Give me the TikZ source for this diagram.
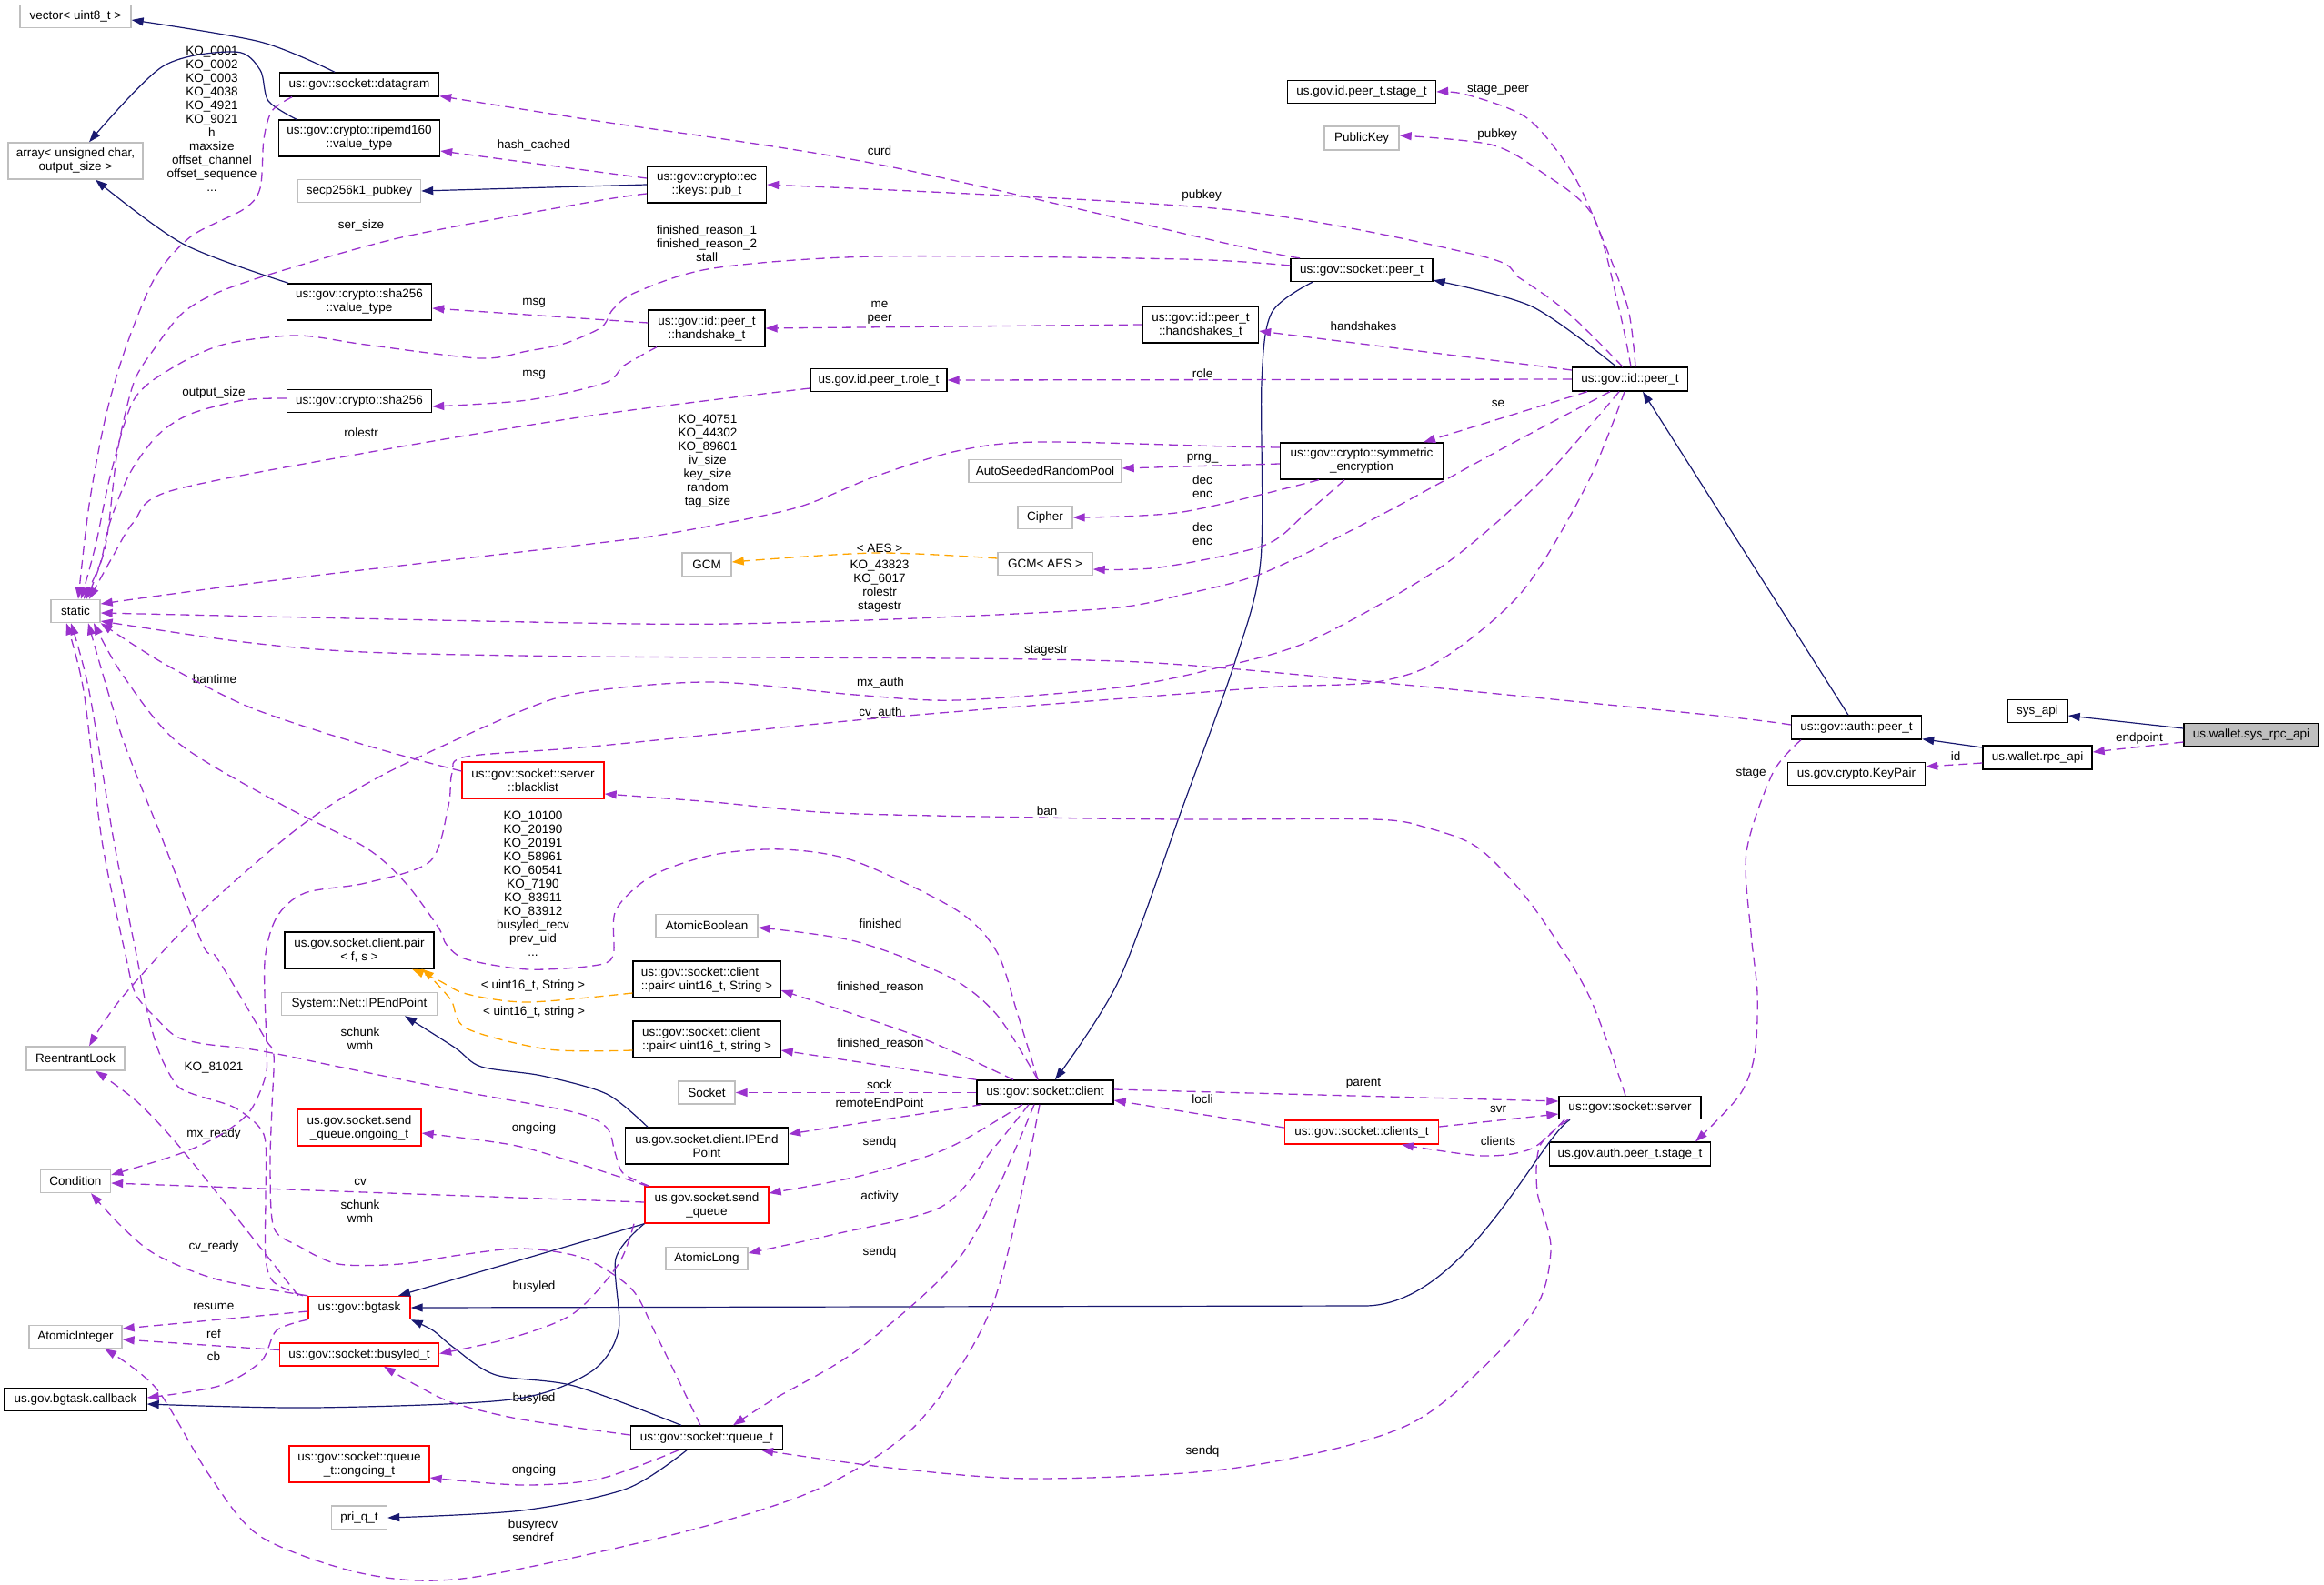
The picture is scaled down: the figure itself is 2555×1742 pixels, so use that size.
\documentclass[tikz,border=0pt]{standalone}
\usepackage{fontspec}
\setmainfont{Liberation Sans}
\usetikzlibrary{arrows.meta}
\definecolor{navyc}{HTML}{191970}
\definecolor{orchc}{HTML}{9A32CD}
\definecolor{orgc}{HTML}{FFA500}
\definecolor{grayc}{HTML}{BFBFBF}
\definecolor{redc}{HTML}{FF0000}
\newcommand{\dfont}{\fontsize{13.5}{15}\selectfont}
\begin{document}
\begin{tikzpicture}[x=1pt,y=-1pt,
 nd/.style={draw=black, line width=1.4pt, rectangle, inner sep=0pt, font=\dfont, align=center},
 gr/.style={nd, draw=grayc},
 rd/.style={nd, draw=redc},
 lb/.style={inner sep=0pt, font=\dfont, align=center},
 arrowtip/.style={-{Triangle[length=13pt,width=9pt]}},
 inh/.style={draw=navyc, line width=1.2pt, arrowtip},
 dep/.style={draw=orchc, line width=1.3pt, dash pattern=on 10pt off 6pt, arrowtip},
 tpl/.style={draw=orgc, line width=1.3pt, dash pattern=on 10pt off 6pt, arrowtip},
]
\useasboundingbox (0,0) rectangle (2555,1742);
% ---------------- nodes ----------------
\node[gr, minimum width=122pt, minimum height=25pt] (vec) at (83,18) {vector< uint8\_t >};
\node[gr, minimum width=148pt, minimum height=40pt] (arr) at (83,177) {array< unsigned char,\\ output\_size >};
\node[nd, minimum width=175pt, minimum height=26pt] (dgram) at (395,93) {us::gov::socket::datagram};
\node[nd, minimum width=177pt, minimum height=40pt] (ripemd) at (395,152) {us::gov::crypto::ripemd160\\::value\_type};
\node[gr, minimum width=135pt, minimum height=25pt] (secp) at (395,210) {secp256k1\_pubkey};
\node[nd, minimum width=159pt, minimum height=40pt] (shav) at (395,332) {us::gov::crypto::sha256\\::value\_type};
\node[nd, minimum width=159pt, minimum height=25pt] (sha) at (395,441) {us::gov::crypto::sha256};
\node[nd, minimum width=131pt, minimum height=40pt] (pubt) at (777,203) {us::gov::crypto::ec\\::keys::pub\_t};
\node[nd, minimum width=128pt, minimum height=40pt] (hshake) at (777,361) {us::gov::id::peer\_t\\::handshake\_t};
\node[nd, minimum width=127pt, minimum height=40pt] (hshakes) at (1320,357) {us::gov::id::peer\_t\\::handshakes\_t};
\node[nd, minimum width=150pt, minimum height=25pt] (role) at (966,418) {us.gov.id.peer\_t.role\_t};
\node[gr, minimum width=168pt, minimum height=25pt] (asrp) at (1149,518) {AutoSeededRandomPool};
\node[gr, minimum width=60pt, minimum height=25pt] (cipher) at (1149,569) {Cipher};
\node[nd, minimum width=163pt, minimum height=25pt] (stagep) at (1497,101) {us.gov.id.peer\_t.stage\_t};
\node[gr, minimum width=82pt, minimum height=26pt] (pubkey) at (1497,152) {PublicKey};
\node[nd, minimum width=156pt, minimum height=25pt] (speer) at (1497,297) {us::gov::socket::peer\_t};
\node[nd, minimum width=127pt, minimum height=26pt] (idpeer) at (1792,417) {us::gov::id::peer\_t};
\node[nd, minimum width=179pt, minimum height=40pt] (symenc) at (1497,507) {us::gov::crypto::symmetric\\\_encryption};
\node[gr, minimum width=54pt, minimum height=26pt] (gcm) at (777,621) {GCM};
\node[gr, minimum width=104pt, minimum height=25pt] (gcmaes) at (1149,620) {GCM< AES >};
\node[gr, minimum width=112pt, minimum height=25pt] (atomb) at (777,1018) {AtomicBoolean};
\node[nd, align=left, minimum width=162pt, minimum height=40pt] (pairS) at (777,1077) {us::gov::socket::client\\::pair< uint16\_t, String >};
\node[nd, align=left, minimum width=162pt, minimum height=40pt] (pairs) at (777,1143) {us::gov::socket::client\\::pair< uint16\_t, string >};
\node[gr, minimum width=54pt, minimum height=25pt] (static) at (83,672) {static};
\node[rd, minimum width=156pt, minimum height=40pt] (blacklist) at (586,858) {us::gov::socket::server\\::blacklist};
\node[nd, minimum width=164pt, minimum height=40pt] (pairfs) at (395,1045) {us.gov.socket.client.pair\\< f, s >};
\node[gr, minimum width=171pt, minimum height=25pt] (ipep) at (395,1104) {System::Net::IPEndPoint};
\node[gr, minimum width=108pt, minimum height=26pt] (rlock) at (83,1164) {ReentrantLock};
\node[rd, minimum width=136pt, minimum height=40pt] (sqong) at (395,1240) {us.gov.socket.send\\\_queue.ongoing\_t};
\node[gr, minimum width=77pt, minimum height=25pt] (cond) at (83,1299) {Condition};
\node[rd, minimum width=136pt, minimum height=40pt] (sendq) at (777,1325) {us.gov.socket.send\\\_queue};
\node[nd, minimum width=179pt, minimum height=40pt] (ipend) at (777,1260) {us.gov.socket.client.IPEnd\\Point};
\node[gr, minimum width=62pt, minimum height=25pt] (socket) at (777,1201.5) {Socket};
\node[gr, minimum width=90pt, minimum height=25pt] (atoml) at (777,1384) {AtomicLong};
\node[rd, minimum width=112pt, minimum height=25pt] (bgtask) at (395,1438) {us::gov::bgtask};
\node[gr, minimum width=102pt, minimum height=25pt] (atomi) at (83,1470) {AtomicInteger};
\node[rd, minimum width=175pt, minimum height=25pt] (busyled) at (395,1489.5) {us::gov::socket::busyled\_t};
\node[nd, minimum width=156pt, minimum height=25pt] (cbk) at (83,1539) {us.gov.bgtask.callback};
\node[nd, minimum width=167pt, minimum height=26pt] (queue) at (777,1581) {us::gov::socket::queue\_t};
\node[rd, minimum width=154pt, minimum height=40pt] (qong) at (395,1610) {us::gov::socket::queue\\\_t::ongoing\_t};
\node[gr, minimum width=61pt, minimum height=26pt] (priq) at (395,1669) {pri\_q\_t};
\node[nd, minimum width=150pt, minimum height=26pt] (client) at (1149,1201) {us::gov::socket::client};
\node[rd, minimum width=169pt, minimum height=26pt] (clients) at (1497,1245) {us::gov::socket::clients\_t};
\node[nd, minimum width=156pt, minimum height=25pt] (server) at (1792,1218) {us::gov::socket::server};
\node[nd, minimum width=177pt, minimum height=26pt] (authstage) at (1792,1269) {us.gov.auth.peer\_t.stage\_t};
\node[nd, minimum width=66pt, minimum height=25pt] (sysapi) at (2240,782) {sys\_api};
\node[nd, fill=grayc, minimum width=148pt, minimum height=25pt] (sysrpc) at (2475,808) {us.wallet.sys\_rpc\_api};
\node[nd, minimum width=143pt, minimum height=26pt] (authpeer) at (2041,800) {us::gov::auth::peer\_t};
\node[nd, minimum width=120pt, minimum height=26pt] (rpcapi) at (2240,833) {us.wallet.rpc\_api};
\node[nd, minimum width=151pt, minimum height=25pt] (keypair) at (2041,851) {us.gov.crypto.KeyPair};
% ---------------- labels ----------------
\node[lb] (l01) at (233,131) {KO\_0001\\KO\_0002\\KO\_0003\\KO\_4038\\KO\_4921\\KO\_9021\\h\\maxsize\\offset\_channel\\offset\_sequence\\...};
\node[lb] (l02) at (397,248) {ser\_size};
\node[lb] (l03) at (587,160) {hash\_cached};
\node[lb] (l04) at (587,333) {msg};
\node[lb] (l05) at (587,412) {msg};
\node[lb] (l06) at (235,432) {output\_size};
\node[lb] (l07) at (397,476) {rolestr};
\node[lb] (l08) at (967,166) {curd};
\node[lb] (l09) at (1321,215) {pubkey};
\node[lb] (l10) at (777,268) {finished\_reason\_1\\finished\_reason\_2\\stall};
\node[lb] (l11) at (967,344) {me\\peer};
\node[lb] (l12) at (1322,411) {role};
\node[lb] (l13) at (778,507) {KO\_40751\\KO\_44302\\KO\_89601\\iv\_size\\key\_size\\random\\tag\_size};
\node[lb] (l14) at (1322,504) {prng\_};
\node[lb] (l15) at (1322,535) {dec\\enc};
\node[lb] (l16) at (1322,587) {dec\\enc};
\node[lb] (l17) at (1647,99) {stage\_peer};
\node[lb] (l18) at (1646,148) {pubkey};
\node[lb] (l19) at (1499,359) {handshakes};
\node[lb] (l20) at (1647,444) {se};
\node[lb] (l21) at (967,603) {< AES >};
\node[lb] (l22) at (967,645) {KO\_43823\\KO\_6017\\rolestr\\stagestr};
\node[lb] (l23) at (1150,716) {stagestr};
\node[lb] (l24) at (968,751) {mx\_auth};
\node[lb] (l25) at (968,784) {cv\_auth};
\node[lb] (l26) at (1151,892) {ban};
\node[lb] (l27) at (968,1016) {finished};
\node[lb] (l28) at (968,1086) {finished\_reason};
\node[lb] (l29) at (968,1148) {finished\_reason};
\node[lb] (l30) at (236,747) {bantime};
\node[lb] (l31) at (586,972) {KO\_10100\\KO\_20190\\KO\_20191\\KO\_58961\\KO\_60541\\KO\_7190\\KO\_83911\\KO\_83912\\busyled\_recv\\prev\_uid\\...};
\node[lb] (l32) at (586,1084) {< uint16\_t, String >};
\node[lb] (l33) at (587,1113) {< uint16\_t, string >};
\node[lb] (l34) at (396,1142) {schunk\\wmh};
\node[lb] (l35) at (235,1174) {KO\_81021};
\node[lb] (l36) at (235,1247) {mx\_ready};
\node[lb] (l37) at (587,1241) {ongoing};
\node[lb] (l38) at (396,1300) {cv};
\node[lb] (l39) at (396,1332) {schunk\\wmh};
\node[lb] (l40) at (235,1371) {cv\_ready};
\node[lb] (l41) at (587,1415) {busyled};
\node[lb] (l42) at (235,1437) {resume};
\node[lb] (l43) at (235,1467) {ref};
\node[lb] (l44) at (235,1492) {cb};
\node[lb] (l45) at (587,1538) {busyled};
\node[lb] (l46) at (587,1617) {ongoing};
\node[lb] (l47) at (586,1683) {busyrecv\\sendref};
\node[lb] (l48) at (967,1193) {sock};
\node[lb] (l49) at (967,1213) {remoteEndPoint};
\node[lb] (l50) at (967,1256) {sendq};
\node[lb] (l51) at (967,1316) {activity};
\node[lb] (l52) at (967,1377) {sendq};
\node[lb] (l53) at (1499,1192) {parent};
\node[lb] (l54) at (1322,1209) {locli};
\node[lb] (l55) at (1647,1220) {svr};
\node[lb] (l56) at (1647,1255) {clients};
\node[lb] (l57) at (1322,1596) {sendq};
\node[lb] (l58) at (2352,812) {endpoint};
\node[lb] (l59) at (2150,832) {id};
\node[lb] (l60) at (1925,851) {stage};
% ---------------- inheritance ----------------
\draw[inh] plot[smooth] coordinates {([xshift=-27pt]dgram.north) (286,46) ([yshift=-4pt]vec.east)};
\draw[inh] plot[smooth] coordinates {([xshift=-69pt]ripemd.north) (295,111) (286,77) (259,57) (179,73) ([xshift=15pt]arr.north)};
\draw[inh] (pubt.west) -- (secp.east);
\draw[inh] plot[smooth] coordinates {([xshift=-78pt]shav.north) (201,268) ([xshift=22pt]arr.south)};
\draw[inh] plot[smooth] coordinates {([xshift=-15pt]idpeer.north) (1684,337) ([yshift=2pt]speer.south east)};
\draw[inh] plot[smooth] coordinates {([xshift=-54pt]speer.south) (1398,344) (1387,421) (1386,616) (1358,727) (1300,888) (1230,1078) ([xshift=11pt]client.north)};
\draw[inh] ([xshift=-9pt]authpeer.north) -- ([xshift=14pt]idpeer.south);
\draw[inh] ([yshift=11pt]rpcapi.west) -- ([yshift=1pt]authpeer.south east);
\draw[inh] ([yshift=7pt]sysrpc.west) -- ([yshift=-5pt]sysapi.east);
\draw[inh] plot[smooth] coordinates {([xshift=-65pt]ipend.north) (667,1203) (596,1183) (529,1173) (500,1152) ([xshift=50pt]ipep.south)};
\draw[inh] (sendq.south west) -- ([xshift=43pt]bgtask.north);
\draw[inh] ([xshift=-66pt]server.south) .. controls (1690,1255) and (1610,1436) .. (1500,1436) -- (bgtask.east);
\draw[inh] plot[smooth] coordinates {([xshift=-28pt]queue.north) (631,1524) (545,1512) (499,1482) (476,1463) (bgtask.south east)};
\draw[inh] plot[smooth] coordinates {(sendq.south west) (677,1384) (680,1463) (649,1509) (562,1539) (344,1548) ([yshift=-5pt]cbk.east)};
\draw[inh] plot[smooth] coordinates {([xshift=-22pt]queue.south) (689,1637) (574,1661) (priq.east)};
% ---------------- templates ----------------
\draw[tpl] plot[smooth] coordinates {([yshift=6pt]gcmaes.west) (962,608) ([yshift=3pt]gcm.east)};
\draw[tpl] plot[smooth] coordinates {([yshift=-15pt]pairS.west) (580,1102) (513,1093) (482,1078) ([xshift=58pt]pairfs.south)};
\draw[tpl] plot[smooth] coordinates {([yshift=-12pt]pairs.west) (603,1154) (513,1131) (496,1100) (473,1074) ([xshift=69pt]pairfs.south)};
% ---------------- usage ----------------
\draw[dep] plot[smooth] coordinates {([xshift=6pt]idpeer.north) (1790,340) (1764,268) (1729,191) (1679,130) (1612,104) (stagep.east)};
\draw[dep] plot[smooth] coordinates {([xshift=1pt]idpeer.north) (1780,340) (1751,237) (1693,188) (1639,159) ([yshift=3pt]pubkey.east)};
\draw[dep] plot[smooth] coordinates {([xshift=-8pt]idpeer.north) (1724,344) (1671,306) (1626,281) (1345,230) (pubt.east)};
\draw[dep] ([yshift=10pt]idpeer.west) -- ([yshift=-7pt]hshakes.east);
\draw[dep] (idpeer.west) -- (role.east);
\draw[dep] ([xshift=-47pt]idpeer.south) -- ([xshift=68pt]symenc.north);
\draw[dep] plot[smooth] coordinates {([xshift=-22pt]idpeer.south) (1656,491) (1513,569) (1389,630) (1300,654) (1230,668) (1096,676) (918,683) (700,686) ([yshift=-2pt]static.east)};
\draw[dep] plot[smooth] coordinates {([xshift=-12pt]idpeer.south) (1691,532) (1585,623) (1442,704) (1336,735) (1230,756) (1052,770) (940,764) (784,750) (650,760) (580,779) (429,848) (335,905) (223,1001) (134,1097) ([xshift=15pt]rlock.north)};
\draw[dep] plot[smooth] coordinates {([xshift=-6pt]idpeer.south) (1745,532) (1674,650) (1585,725) (1513,750) (1407,755) (1300,763) (963,790) (650,821) (513,832) (497,850) (493,886) (473,947) (402,971) (335,982) (304,1009) (291,1058) (293,1150) (292,1183) (274,1223) (239,1250) (194,1270) ([yshift=7pt]cond.east)};
\draw[dep] plot[smooth] coordinates {([yshift=3pt]authpeer.west) (1858,784) (1350,735) (1141,725) (650,722) (400,717) (268,706) ([yshift=-11pt]static.east)};
\draw[dep] plot[smooth] coordinates {([yshift=15pt]symenc.west) (1350,491) (1141,486) (1052,496) (962,524) (873,559) (739,586) (650,598) (312,637) ([yshift=8pt]static.east)};
\draw[dep] ([yshift=-3pt]symenc.west) -- ([yshift=3pt]asrp.east);
\draw[dep] plot[smooth] coordinates {([xshift=-47pt]symenc.south) (1300,563) (cipher.east)};
\draw[dep] plot[smooth] coordinates {([xshift=-19pt]symenc.south) (1434,566) (1389,600) (1275,624) ([yshift=-6pt]gcmaes.east)};
\draw[dep] plot[smooth] coordinates {([yshift=5pt]speer.west) (1300,285) (963,282) (784,295) (700,321) (674,340) (661,360) (620,378) (580,386) (527,394) (402,379) (326,369) (245,379) (187,406) (147,440) (122,520) (105,600) ([xshift=6pt]static.north)};
\draw[dep] plot[smooth] coordinates {([xshift=-68pt]speer.north) (1350,268) (962,180) (650,132) ([yshift=1pt]dgram.south east)};
\draw[dep] plot[smooth] coordinates {([yshift=7pt]pubt.west) (650,188) ([yshift=-14pt]ripemd.east)};
\draw[dep] plot[smooth] coordinates {([yshift=-10pt]pubt.west) (650,222) (446,260) (312,297) (241,321) (201,344) (170,383) (147,421) (129,497) (116,600) ([xshift=12pt]static.north)};
\draw[dep] ([yshift=6pt]hshake.west) -- ([yshift=-7pt]shav.east);
\draw[dep] plot[smooth] coordinates {([xshift=-55pt]hshake.south) (686,402) (665,421) (580,440) ([yshift=-6pt]sha.east)};
\draw[dep] (hshakes.west) -- (hshake.east);
\draw[dep] plot[smooth] coordinates {([yshift=-9pt]role.west) (650,457) (402,498) (187,540) (147,574) (125,610) ([xshift=15pt]static.north)};
\draw[dep] plot[smooth] coordinates {([yshift=3pt]sha.west) (268,440) (210,455) (174,478) (143,520) (121,574) (110,620) ([xshift=9pt]static.north)};
\draw[dep] plot[smooth] coordinates {([xshift=-74pt]dgram.south) (299,122) (290,153) (286,207) (268,230) (210,260) (170,306) (138,383) (116,459) (98,555) ([xshift=3pt]static.north)};
\draw[dep] plot[smooth] coordinates {([xshift=-61pt]authpeer.south) (1949,850) (1920,937) (1925,1026) (1932,1093) (1929,1160) (1912,1205) ([xshift=72pt]authstage.north)};
\draw[dep] ([yshift=-6pt]rpcapi.west) -- ([yshift=8pt]keypair.east);
\draw[dep] ([yshift=-8pt]sysrpc.west) -- ([yshift=6pt]rpcapi.east);
\draw[dep] plot[smooth] coordinates {([xshift=-8pt]client.north) (1096,1116) (1043,1074) (940,1035) ([yshift=-2pt]atomb.east)};
\draw[dep] plot[smooth] coordinates {([xshift=-35pt]client.north) (1007,1139) ([yshift=-12pt]pairS.east)};
\draw[dep] (client.north west) -- ([yshift=-12pt]pairs.east);
\draw[dep] ([yshift=-0.5pt]client.west) -- (socket.east);
\draw[dep] ([xshift=6pt]client.south west) -- ([yshift=13pt]ipend.east);
\draw[dep] plot[smooth] coordinates {([xshift=-25pt]client.south) (1041,1263) (946,1293) ([yshift=13pt]sendq.east)};
\draw[dep] plot[smooth] coordinates {([xshift=-18pt]client.south) (1092,1263) (1035,1327) (914,1358) ([yshift=6pt]atoml.east)};
\draw[dep] plot[smooth] coordinates {([xshift=-12pt]client.south) (1060,1376) (946,1482) (850,1539) ([xshift=29pt]queue.north)};
\draw[dep] plot[smooth] coordinates {([xshift=-6pt]client.south) (1092,1433) (1009,1565) (900,1637) (746,1686) (516,1735) (402,1731) (287,1690) (230,1622) (172,1527) ([xshift=32pt]atomi.south)};
\draw[dep] plot[smooth] coordinates {([xshift=-8pt]client.north) (1119,1116) (1096,1047) (1052,1001) (940,947) (860,934) (784,940) (717,963) (677,1001) (674,1051) (652,1062) (580,1066) (513,1055) (491,1039) (482,1020) (446,971) (402,932) (312,886) (196,817) (134,741) ([xshift=20pt]static.south)};
\draw[dep] ([yshift=3pt]client.east) -- ([yshift=7pt]server.west);
\draw[dep] ([yshift=5pt]clients.west) -- ([yshift=-9pt]client.east);
\draw[dep] ([yshift=6pt]clients.east) -- ([yshift=-7pt]server.west);
\draw[dep] plot[smooth] coordinates {([xshift=-72pt]server.south) (1684,1263) (1630,1271) ([xshift=44pt]clients.south)};
\draw[dep] plot[smooth] coordinates {([xshift=-5pt]server.north) (1746,1093) (1684,995) (1626,933) (1568,910) (1510,901) (1300,901) (1141,899) (918,894) (784,882) ([yshift=-15pt]blacklist.east)};
\draw[dep] plot[smooth] coordinates {([xshift=-68pt]server.south) (1693,1260) (1690,1310) (1705,1376) (1679,1452) (1552,1565) (1360,1614) (1137,1626) (978,1614) ([xshift=60pt]queue.south)};
\draw[dep] plot[smooth] coordinates {([xshift=-62pt]bgtask.north) (301,1410) (292,1383) (292,1317) (292,1257) (283,1237) (256,1217) (212,1203) (194,1193) (176,1160) (163,1117) (150,1050) (125,924) (98,760) ([xshift=-5pt]static.south)};
\draw[dep] plot[smooth] coordinates {([xshift=-63pt]sendq.north) (685,1290) (676,1267) (667,1240) (631,1223) (506,1200) (372,1173) (310,1160) (270,1153) (225,1148) (194,1140) (172,1120) (149,1093) (138,1050) (112,924) (92,760) ([xshift=-10pt]static.south)};
\draw[dep] plot[smooth] coordinates {([xshift=-7pt]queue.north) (721,1467) (694,1417) (640,1383) (573,1373) (506,1380) (440,1390) (372,1390) (328,1370) (301,1350) (297,1283) (299,1217) (301,1160) (292,1143) (261,1090) (236,1050) (223,1039) (179,924) (134,810) ([xshift=14pt]static.south)};
\draw[dep] plot[smooth] coordinates {([xshift=-67pt]bgtask.north) (261,1340) (194,1257) (149,1210) ([xshift=22pt]rlock.south)};
\draw[dep] plot[smooth] coordinates {(bgtask.north west) (239,1407) (172,1380) (135,1350) ([xshift=17pt]cond.south)};
\draw[dep] plot[smooth] coordinates {([yshift=3pt]sendq.west) (344,1309) ([yshift=-2pt]cond.east)};
\draw[dep] plot[smooth] coordinates {([xshift=-65pt]sendq.north) (631,1278) (563,1259) ([yshift=-6pt]sqong.east)};
\draw[dep] plot[smooth] coordinates {([xshift=-80pt]sendq.south) (680,1390) (631,1444) (563,1471) ([yshift=1pt]busyled.east)};
\draw[dep] plot[smooth] coordinates {([yshift=3pt]queue.west) (574,1561) (499,1543) (459,1524) ([xshift=27pt]busyled.south)};
\draw[dep] plot[smooth] coordinates {([xshift=-31pt]queue.south) (660,1626) (574,1633) ([yshift=-15pt]qong.east)};
\draw[dep] ([yshift=-4pt]bgtask.west) -- ([yshift=9pt]atomi.east);
\draw[dep] ([yshift=5pt]busyled.west) -- ([yshift=-3pt]atomi.east);
\draw[dep] plot[smooth] coordinates {(bgtask.south west) (304,1463) (287,1497) (241,1524) ([yshift=2pt]cbk.east)};
\draw[dep] plot[smooth] coordinates {([yshift=10pt]blacklist.west) (446,832) (357,806) (268,775) (179,729) (static.south east)};
\end{tikzpicture}
\end{document}
